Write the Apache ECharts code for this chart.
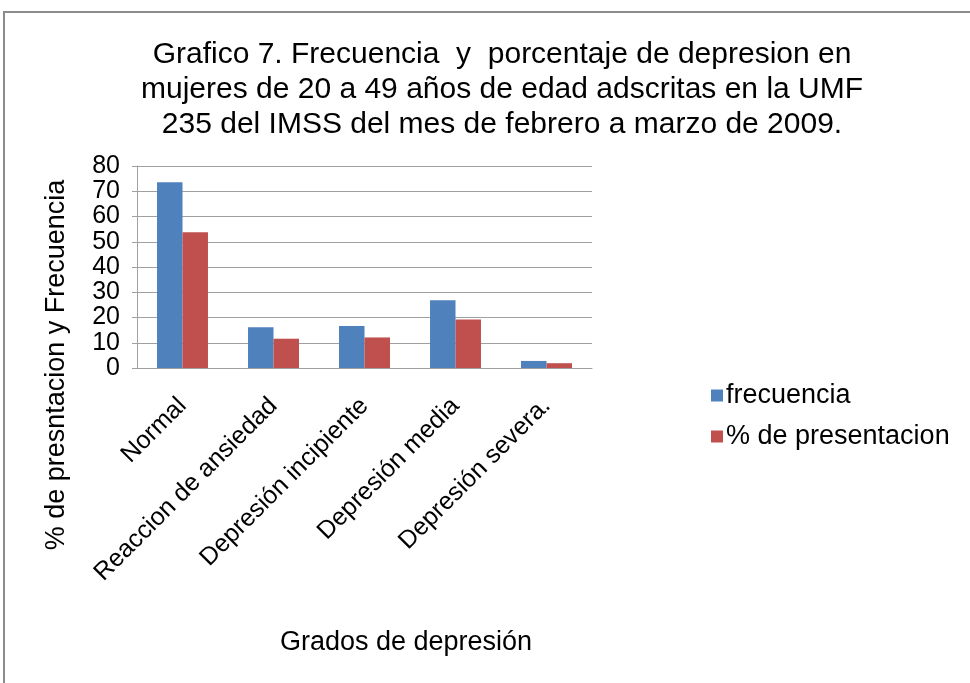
<!DOCTYPE html>
<html>
<head>
<meta charset="utf-8">
<script src="https://cdn.jsdelivr.net/npm/echarts@6/dist/echarts.min.js"></script>
<style>
  html, body { margin: 0; padding: 0; background: #fff; }
  #chart { width: 970px; height: 683px; }
</style>
</head>
<body>
<div id="chart"></div>
<script>
// datos
let categorias = ['Normal', 'Reaccion de ansiedad', 'Depresión incipiente', 'Depresión media', 'Depresión severa.'];
let frecuencia = [73.6, 16.1, 16.6, 26.8, 2.8];
let porcentaje = [53.8, 11.6, 12.1, 19.2, 1.9];
let yTicks = [0, 10, 20, 30, 40, 50, 60, 70, 80];

let default_color = {
  tc: '#000000',
  grid: '#a0a0a0',
  azul: '#4f81bd',
  rojo: '#c0504d'
};
let fuente = '"Liberation Sans", Arial, sans-serif';

let chart = echarts.init(document.getElementById('chart'));
let option = {
  animation: false,
  title: {
    text: 'Grafico 7. Frecuencia  y  porcentaje de depresion en\nmujeres de 20 a 49 años de edad adscritas en la UMF\n235 del IMSS del mes de febrero a marzo de 2009.',
    left: 497,
    top: 32,
    textAlign: 'center',
    textStyle: {
      color: default_color.tc,
      fontFamily: fuente,
      fontWeight: 'normal',
      fontSize: 30,
      lineHeight: 35
    }
  },
  legend: {
    data: ['frecuencia', '% de presentacion'],
    orient: 'vertical',
    left: 706,
    top: 377,
    itemWidth: 12,
    itemHeight: 12,
    itemGap: 14,
    icon: 'rect',
    textStyle: {
      color: default_color.tc,
      fontFamily: fuente,
      fontSize: 27,
      padding: [0, 0, 0, -2]
    }
  },
  grid: {
    left: 137,
    top: 166,
    right: 378,
    bottom: 315,
    containLabel: false
  },
  xAxis: {
    type: 'category',
    data: categorias,
    axisTick: { show: false },
    axisLine: { lineStyle: { color: default_color.grid, width: 1 } },
    axisLabel: {
      rotate: 45,
      interval: 0,
      margin: 34,
      color: default_color.tc,
      fontFamily: fuente,
      fontSize: 25
    }
  },
  yAxis: {
    type: 'value',
    min: yTicks[0],
    max: yTicks[yTicks.length - 1],
    interval: 10,
    axisLine: { show: true, lineStyle: { color: default_color.grid, width: 1 } },
    axisTick: { show: true, length: 5, lineStyle: { color: default_color.grid } },
    splitLine: { lineStyle: { color: default_color.grid, width: 1, type: 'solid' } },
    axisLabel: {
      margin: 17,
      showMinLabel: true,
      showMaxLabel: true,
      hideOverlap: false,
      color: default_color.tc,
      fontFamily: fuente,
      fontSize: 25,
      lineHeight: 20
    }
  },
  graphic: [
    {
      type: 'rect',
      shape: { x: 4, y: 12, width: 1000, height: 720 },
      style: { fill: 'none', stroke: '#8c8c8c', lineWidth: 2 },
      silent: true
    },
    {
      type: 'text',
      x: 57,
      y: 365,
      rotation: Math.PI / 2,
      style: {
        text: '% de presntacion y Frecuencia',
        fill: default_color.tc,
        font: '27px ' + fuente,
        align: 'center',
        verticalAlign: 'middle'
      }
    },
    {
      type: 'text',
      x: 406,
      y: 643,
      style: {
        text: 'Grados de depresión',
        fill: default_color.tc,
        font: '27px ' + fuente,
        align: 'center',
        verticalAlign: 'middle'
      }
    }
  ],
  series: [
    {
      name: 'frecuencia',
      type: 'bar',
      data: frecuencia,
      barGap: '0%',
      barCategoryGap: '44%',
      itemStyle: { color: default_color.azul }
    },
    {
      name: '% de presentacion',
      type: 'bar',
      data: porcentaje,
      itemStyle: { color: default_color.rojo }
    }
  ]
};
chart.setOption(option);
</script>
</body>
</html>
